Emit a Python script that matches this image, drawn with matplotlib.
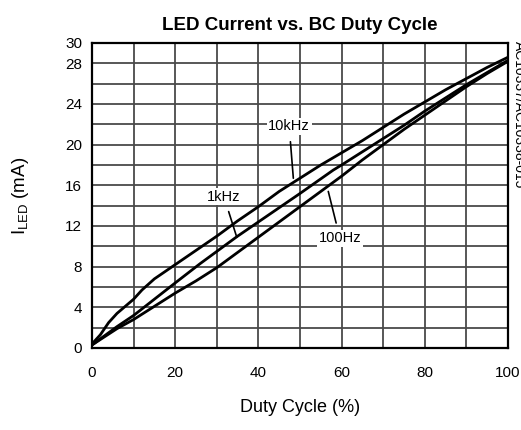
import numpy as np
import matplotlib
matplotlib.use("Agg")
import matplotlib.pyplot as plt

plt.rcParams['font.family'] = ['Liberation Sans', 'DejaVu Sans']

# duty cycle (%) and LED current (mA)
duty_10k = [0, 2, 4, 6, 8, 10, 12, 15, 20, 25, 30, 35, 40, 45, 50, 55, 60, 65, 70, 75, 80, 85, 90, 95, 100]
iled_10k = [0.4, 1.3, 2.5, 3.4, 4.1, 4.8, 5.7, 6.8, 8.2, 9.6, 11.0, 12.5, 13.9, 15.4, 16.7, 18.0, 19.2, 20.4, 21.7, 23.0, 24.2, 25.4, 26.5, 27.6, 28.6]

duty_1k = [0, 3, 6, 10, 15, 20, 26, 30, 35, 40, 45, 50, 58, 60, 65, 70, 75, 80, 85, 90, 95, 100]
iled_1k = [0.3, 1.2, 2.1, 3.2, 4.8, 6.4, 8.3, 9.5, 11.0, 12.4, 13.8, 15.2, 17.5, 18.0, 19.3, 20.6, 21.9, 23.3, 24.6, 25.9, 27.1, 28.3]

duty_100 = [0, 3, 6, 10, 15, 20, 25, 30, 35, 40, 45, 50, 55, 60, 65, 70, 75, 80, 85, 90, 95, 100]
iled_100 = [0.3, 1.1, 1.9, 2.8, 4.1, 5.4, 6.6, 7.9, 9.4, 10.9, 12.4, 13.9, 15.4, 16.9, 18.5, 20.0, 21.5, 22.9, 24.3, 25.7, 27.0, 28.2]

xticks = [0, 20, 40, 60, 80, 100]
yticks = [0, 4, 8, 12, 16, 20, 24, 28, 30]

fig = plt.figure(figsize=(5.21, 4.30), dpi=100)
ax = fig.add_axes([0.1766, 0.1907, 0.7984, 0.7093])

# grid: every 10 % and every 2 mA
for gx in np.arange(10, 100, 10):
    ax.axvline(gx, color='#4a4a4a', lw=1.3, zorder=1)
for gy in np.arange(2, 30, 2):
    ax.axhline(gy, color='#4a4a4a', lw=1.3, zorder=1)

ax.plot(duty_10k, iled_10k, color='black', lw=2.0, zorder=3)
ax.plot(duty_1k, iled_1k, color='black', lw=2.0, zorder=3)
ax.plot(duty_100, iled_100, color='black', lw=2.0, zorder=3)

box = dict(facecolor='white', edgecolor='none', pad=1.0)
arrow = dict(arrowstyle='-', color='black', lw=1.2, shrinkA=5, shrinkB=0)
ax.annotate('10kHz', xy=(48.4, 16.7), xytext=(47.4, 21.8), ha='center', va='center',
            fontsize=10.5, bbox=box, zorder=5, arrowprops=arrow)
ax.annotate('1kHz', xy=(34.8, 10.9), xytext=(31.7, 14.9), ha='center', va='center',
            fontsize=10.5, bbox=box, zorder=5, arrowprops=arrow)
ax.annotate('100Hz', xy=(56.8, 15.4), xytext=(59.6, 10.8), ha='center', va='center',
            fontsize=10.5, bbox=box, zorder=5, arrowprops=arrow)

ax.set_xlim(0, 100)
ax.set_ylim(0, 30)
ax.set_xticks(xticks)
ax.set_yticks(yticks)
ax.tick_params(length=0, labelsize=11)
ax.tick_params(axis='x', pad=13)
ax.tick_params(axis='y', pad=7)
for s in ax.spines.values():
    s.set_linewidth(1.6)
    s.set_zorder(4)

ax.set_xlabel('Duty Cycle (%)', fontsize=13, labelpad=14)
ax.set_ylabel(r'I$_{\mathregular{LED}}$ (mA)', fontsize=13.5, labelpad=25)
ax.set_title('LED Current vs. BC Duty Cycle', fontsize=13.5, fontweight='bold', pad=9)

fig.text(0.983, 0.905, 'AC10337/AC10338-015', rotation=270, ha='left', va='top', fontsize=10)

fig.savefig('out.png', dpi=100)
